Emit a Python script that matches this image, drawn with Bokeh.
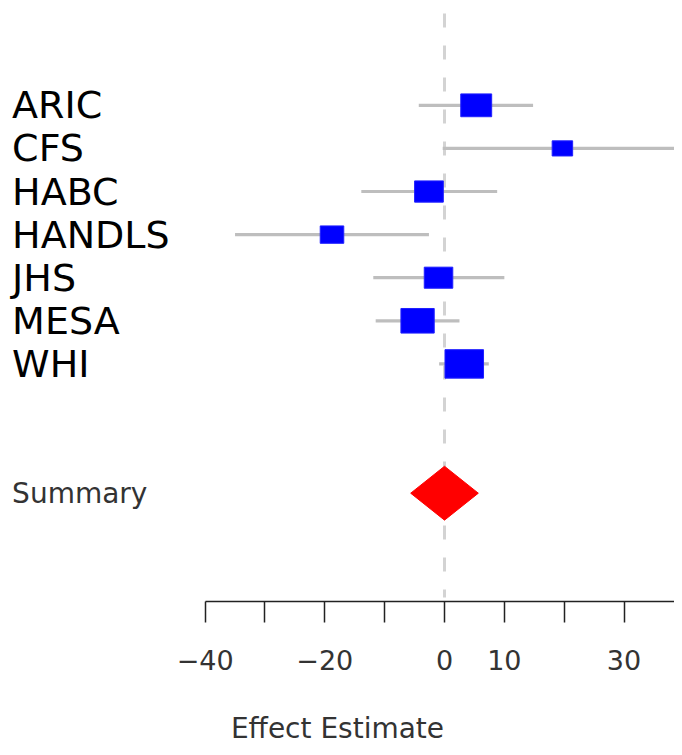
import numpy as np
from bokeh.plotting import figure
from bokeh.models import ColumnDataSource, FixedTicker, LinearAxis
from bokeh.core.properties import value
from bokeh.embed import file_html
from bokeh.resources import INLINE

# ---- data ----
studies = ["ARIC", "CFS", "HABC", "HANDLS", "JHS", "MESA", "WHI"]
estimate = [5.3, 19.7, -2.6, -18.8, -1.0, -4.5, 3.3]
ci_lower = [-4.3, -0.3, -13.9, -35.0, -11.9, -11.5, -0.9]
ci_upper = [14.8, 45.0, 8.8, -2.6, 10.0, 2.5, 7.4]
weights = [15.5, 6.8, 13.4, 9.0, 13.2, 18.0, 24.1]   # percent
summary_label = "Summary"
summary_est = 0.0
summary_lower = -5.65
summary_upper = 5.65
tick_values = [-40, -30, -20, -10, 0, 10, 20, 30, 40]
tick_labels = {-40: "\u221240", -30: "", -20: "\u221220", -10: "", 0: "0",
               10: "10", 20: "", 30: "30", 40: "40"}
x_label = "Effect Estimate"

# ---- layout ----
n = len(studies)
row_y = [n - i for i in range(n)]          # ARIC at top
summary_y = -2.0

p = figure(width=674, height=747, output_backend="svg", toolbar_location=None,
           x_range=(-74.19, 38.43), y_range=(-4.513, 9.432),
           x_axis_location=None, y_axis_location=None,
           min_border_left=0, min_border_right=0, min_border_top=0,
           min_border_bottom=145)
p.outline_line_color = None
p.grid.visible = False
p.background_fill_color = "white"
p.border_fill_color = "white"

# reference line at zero
p.segment(x0=[0], y0=[9.13], x1=[0], y1=[-4.42], line_color="#d3d3d3",
          line_width=3, line_dash="14 18")

src = ColumnDataSource(dict(
    y=row_y, est=estimate, lo=ci_lower, hi=ci_upper,
    bw=[7.85 * np.sqrt(w) for w in weights],
    bh=[5.8 * np.sqrt(w) for w in weights],
    name=studies))

p.segment(x0="lo", y0="y", x1="hi", y1="y", source=src,
          line_color="#bebebe", line_width=3.2)
p.rect(x="est", y="y", width="bw", height="bh", width_units="screen",
       height_units="screen", source=src, fill_color="#0000ff",
       line_color="#2020ff", line_width=1)

# summary diamond
h = 0.625
p.patch(x=[summary_lower, summary_est, summary_upper, summary_est],
        y=[summary_y, summary_y + h, summary_y, summary_y - h],
        fill_color="#ff0000", line_color="#ff0000", line_width=1)

# study labels
lab_x = -72.25
p.text(x=[lab_x] * n, y=row_y, text=studies, text_font=value("DejaVu Sans"),
       text_font_size="38px", text_color="black", text_baseline="middle",
       text_align="left")
p.text(x=[lab_x], y=[summary_y], text=[summary_label],
       text_font=value("DejaVu Sans"), text_font_size="28px",
       text_color="#333333", text_baseline="middle", text_align="left")

# x axis
ax = LinearAxis(bounds=(-40, 40))
ax.ticker = FixedTicker(ticks=tick_values)
ax.major_label_overrides = tick_labels
ax.minor_tick_line_color = None
ax.major_tick_in = 0
ax.major_tick_out = 21
ax.major_tick_line_color = "#222222"
ax.major_tick_line_width = 1.5
ax.axis_line_color = "#222222"
ax.axis_line_width = 1.5
ax.major_label_text_font = "DejaVu Sans"
ax.major_label_text_font_size = "27px"
ax.major_label_text_color = "#333333"
ax.major_label_standoff = 27
ax.axis_label = x_label
ax.axis_label_text_font = "DejaVu Sans"
ax.axis_label_text_font_size = "28px"
ax.axis_label_text_font_style = "normal"
ax.axis_label_text_color = "#333333"
ax.axis_label_standoff = 39
p.add_layout(ax, "below")

open("out.html", "w").write(file_html(p, INLINE))
